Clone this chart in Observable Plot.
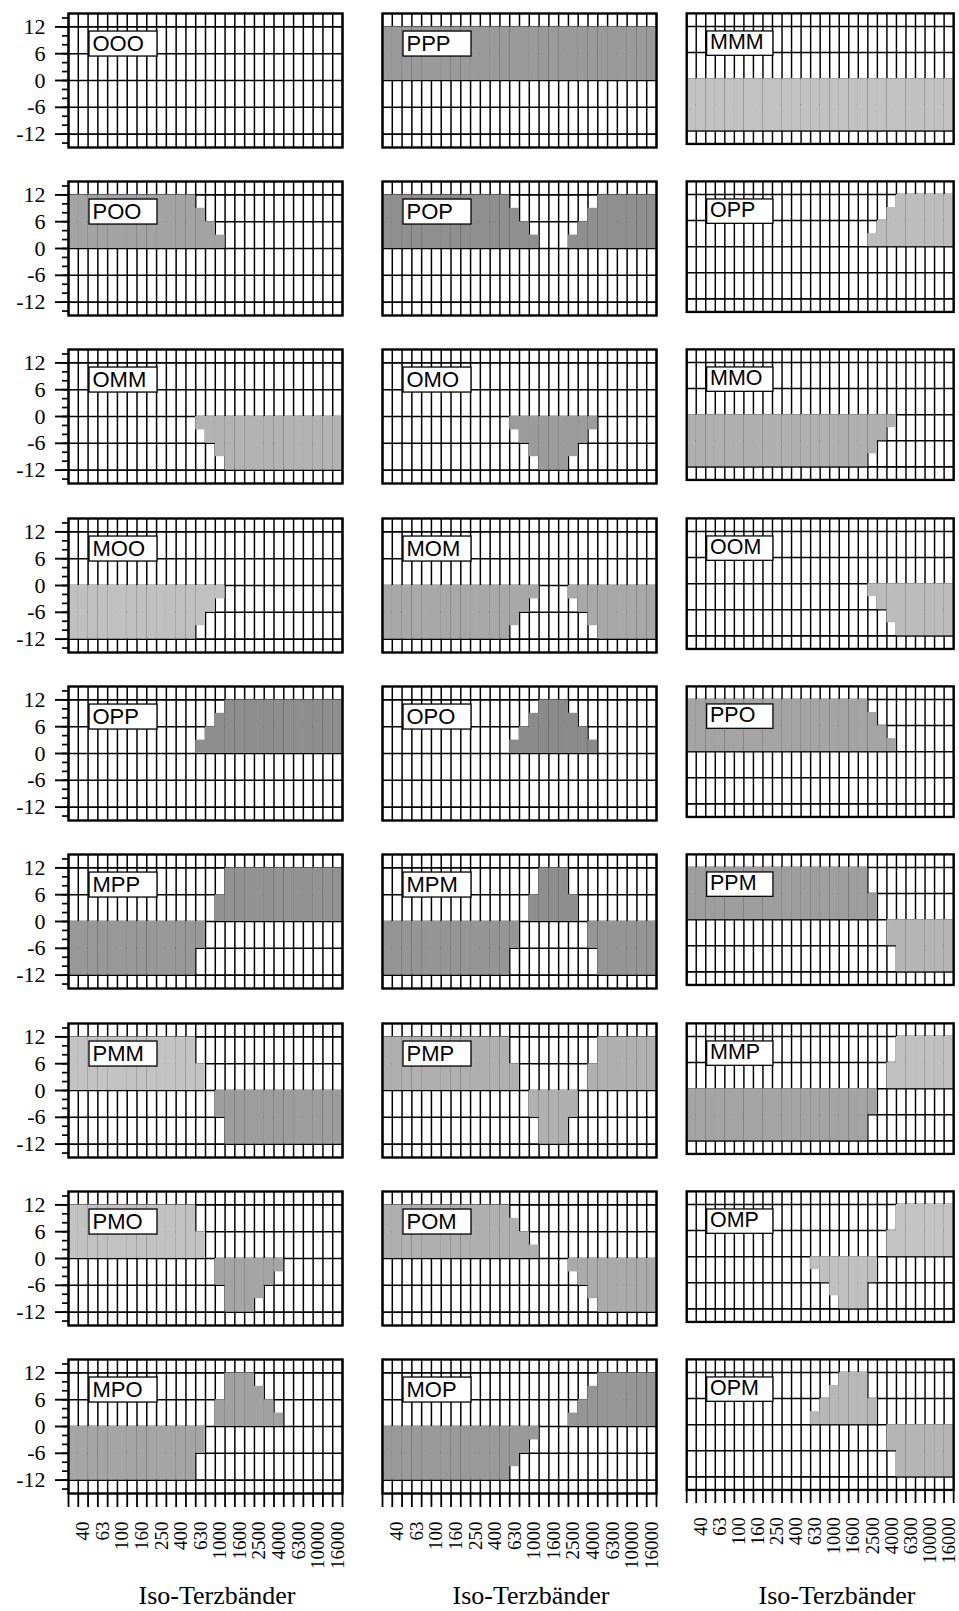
<!DOCTYPE html>
<html><head><meta charset="utf-8">
<script src="https://cdn.jsdelivr.net/npm/d3@7"></script>
<script src="https://cdn.jsdelivr.net/npm/@observablehq/plot@0.6"></script>
<style>
html,body{margin:0;padding:0;background:#fff;}
#page{position:relative;width:959px;height:1611px;overflow:hidden;background:#fff;}
.panel{position:absolute;}
.xtitle{position:absolute;font-family:"Liberation Serif","Times New Roman",serif;font-size:26px;white-space:nowrap;transform:translateX(-50%);line-height:26px;}
</style></head><body><div id="page"></div>
<script>
// ISO third-octave bands (columns of every panel)
const bands = ["31.5","40","50","63","80","100","125","160","200","250","315","400","500","630","800","1000","1250","1600","2000","2500","3150","4000","5000","6300","8000","10000","12500","16000"];
const xTickLabels = ["40","63","100","160","250","400","630","1000","1600","2500","4000","6300","10000","16000"];
const yTickLabels = [12, 6, 0, -6, -12];
const yMinorTicks = [-14,-12,-10,-8,-6,-4,-2,0,2,4,6,8,10,12,14];
const xTitle = "Iso-Terzbänder";

const panelLabels = [
  ["OOO","PPP","MMM"],
  ["POO","POP","OPP"],
  ["OMM","OMO","MMO"],
  ["MOO","MOM","OOM"],
  ["OPP","OPO","PPO"],
  ["MPP","MPM","PPM"],
  ["PMM","PMP","MMP"],
  ["PMO","POM","OMP"],
  ["MPO","MOP","OPM"]
];

// gain (dB) shaded from 0 in each band, one array per panel
const gain_r1c1 = [0,0,0,0,0,0,0,0,0,0,0,0,0, 0,0,0, 0,0,0, 0,0,0, 0,0,0,0,0,0];
const gain_r1c2 = [12,12,12,12,12,12,12,12,12,12,12,12,12, 12,12,12, 12,12,12, 12,12,12, 12,12,12,12,12,12];
const gain_r1c3 = [-12,-12,-12,-12,-12,-12,-12,-12,-12,-12,-12,-12,-12, -12,-12,-12, -12,-12,-12, -12,-12,-12, -12,-12,-12,-12,-12,-12];
const gain_r2c1 = [12,12,12,12,12,12,12,12,12,12,12,12,12, 9,6,3, 0,0,0, 0,0,0, 0,0,0,0,0,0];
const gain_r2c2 = [12,12,12,12,12,12,12,12,12,12,12,12,12, 9,6,3, 0,0,0, 3,6,9, 12,12,12,12,12,12];
const gain_r2c3 = [0,0,0,0,0,0,0,0,0,0,0,0,0, 0,0,0, 0,0,0, 3,6,9, 12,12,12,12,12,12];
const gain_r3c1 = [0,0,0,0,0,0,0,0,0,0,0,0,0, -3,-6,-9, -12,-12,-12, -12,-12,-12, -12,-12,-12,-12,-12,-12];
const gain_r3c2 = [0,0,0,0,0,0,0,0,0,0,0,0,0, -3,-6,-9, -12,-12,-12, -9,-6,-3, 0,0,0,0,0,0];
const gain_r3c3 = [-12,-12,-12,-12,-12,-12,-12,-12,-12,-12,-12,-12,-12, -12,-12,-12, -12,-12,-12, -9,-6,-3, 0,0,0,0,0,0];
const gain_r4c1 = [-12,-12,-12,-12,-12,-12,-12,-12,-12,-12,-12,-12,-12, -9,-6,-3, 0,0,0, 0,0,0, 0,0,0,0,0,0];
const gain_r4c2 = [-12,-12,-12,-12,-12,-12,-12,-12,-12,-12,-12,-12,-12, -9,-6,-3, 0,0,0, -3,-6,-9, -12,-12,-12,-12,-12,-12];
const gain_r4c3 = [0,0,0,0,0,0,0,0,0,0,0,0,0, 0,0,0, 0,0,0, -3,-6,-9, -12,-12,-12,-12,-12,-12];
const gain_r5c1 = [0,0,0,0,0,0,0,0,0,0,0,0,0, 3,6,9, 12,12,12, 12,12,12, 12,12,12,12,12,12];
const gain_r5c2 = [0,0,0,0,0,0,0,0,0,0,0,0,0, 3,6,9, 12,12,12, 9,6,3, 0,0,0,0,0,0];
const gain_r5c3 = [12,12,12,12,12,12,12,12,12,12,12,12,12, 12,12,12, 12,12,12, 9,6,3, 0,0,0,0,0,0];
const gain_r6c1 = [-12,-12,-12,-12,-12,-12,-12,-12,-12,-12,-12,-12,-12, -6,0,6, 12,12,12, 12,12,12, 12,12,12,12,12,12];
const gain_r6c2 = [-12,-12,-12,-12,-12,-12,-12,-12,-12,-12,-12,-12,-12, -6,0,6, 12,12,12, 6,0,-6, -12,-12,-12,-12,-12,-12];
const gain_r6c3 = [12,12,12,12,12,12,12,12,12,12,12,12,12, 12,12,12, 12,12,12, 6,0,-6, -12,-12,-12,-12,-12,-12];
const gain_r7c1 = [12,12,12,12,12,12,12,12,12,12,12,12,12, 6,0,-6, -12,-12,-12, -12,-12,-12, -12,-12,-12,-12,-12,-12];
const gain_r7c2 = [12,12,12,12,12,12,12,12,12,12,12,12,12, 6,0,-6, -12,-12,-12, -6,0,6, 12,12,12,12,12,12];
const gain_r7c3 = [-12,-12,-12,-12,-12,-12,-12,-12,-12,-12,-12,-12,-12, -12,-12,-12, -12,-12,-12, -6,0,6, 12,12,12,12,12,12];
const gain_r8c1 = [12,12,12,12,12,12,12,12,12,12,12,12,12, 6,0,-6, -12,-12,-12, -9,-6,-3, 0,0,0,0,0,0];
const gain_r8c2 = [12,12,12,12,12,12,12,12,12,12,12,12,12, 9,6,3, 0,0,0, -3,-6,-9, -12,-12,-12,-12,-12,-12];
const gain_r8c3 = [0,0,0,0,0,0,0,0,0,0,0,0,0, -3,-6,-9, -12,-12,-12, -6,0,6, 12,12,12,12,12,12];
const gain_r9c1 = [-12,-12,-12,-12,-12,-12,-12,-12,-12,-12,-12,-12,-12, -6,0,6, 12,12,12, 9,6,3, 0,0,0,0,0,0];
const gain_r9c2 = [-12,-12,-12,-12,-12,-12,-12,-12,-12,-12,-12,-12,-12, -9,-6,-3, 0,0,0, 3,6,9, 12,12,12,12,12,12];
const gain_r9c3 = [0,0,0,0,0,0,0,0,0,0,0,0,0, 3,6,9, 12,12,12, 6,0,-6, -12,-12,-12,-12,-12,-12];

const gains = [
  [gain_r1c1, gain_r1c2, gain_r1c3],
  [gain_r2c1, gain_r2c2, gain_r2c3],
  [gain_r3c1, gain_r3c2, gain_r3c3],
  [gain_r4c1, gain_r4c2, gain_r4c3],
  [gain_r5c1, gain_r5c2, gain_r5c3],
  [gain_r6c1, gain_r6c2, gain_r6c3],
  [gain_r7c1, gain_r7c2, gain_r7c3],
  [gain_r8c1, gain_r8c2, gain_r8c3],
  [gain_r9c1, gain_r9c2, gain_r9c3]
];

// styling (halftone tones, approximated by flat greys)
const posTone = [
  ["#fff","#9a9a9a","#fff"],
  ["#a3a3a3","#8f8f8f","#bdbdbd"],
  ["#fff","#fff","#fff"],
  ["#fff","#fff","#fff"],
  ["#8e8e8e","#8a8a8a","#a4a4a4"],
  ["#929292","#8e8e8e","#9e9e9e"],
  ["#c3c3c3","#b0b0b0","#c0c0c0"],
  ["#c2c2c2","#b0b0b0","#c4c4c4"],
  ["#a2a2a2","#969696","#b8b8b8"]
];
const negTone = [
  ["#fff","#fff","#c2c2c2"],
  ["#fff","#fff","#fff"],
  ["#b3b3b3","#9c9c9c","#b0b0b0"],
  ["#c0c0c0","#a8a8a8","#bcbcbc"],
  ["#fff","#fff","#fff"],
  ["#989898","#959595","#b5b5b5"],
  ["#9d9d9d","#b0b0b0","#a4a4a4"],
  ["#a5a5a5","#aaaaaa","#c0c0c0"],
  ["#a5a5a5","#9a9a9a","#b5b5b5"]
];

const SERIF = '"Liberation Serif","Times New Roman",serif';
const SANS = '"Liberation Sans",Arial,sans-serif';
const FW = 274, FH = 134;
const colLeft = [68, 382, 688];
const rowTop = r => 12.8 + 168.3 * r;
const ML = 70, MR = 6, MT = 4;
const ns = "http://www.w3.org/2000/svg";

const page = document.getElementById("page");

for (let r = 0; r < 9; r++) {
  for (let c = 0; c < 3; c++) {
    const gain = gains[r][c];
    const cells = gain.map((g, i) => ({band: i, g})).filter(d => d.g !== 0);
    const isLeft = c === 0, isBottom = r === 8;
    const MB = isBottom ? 80 : 4;
    const pf = posTone[r][c], nf = negTone[r][c];
    const marks = [
      Plot.ruleX(d3.range(bands.length + 1), {stroke: "#000", strokeWidth: 1.5}),
      Plot.ruleY([-12, -6, 0, 6, 12], {stroke: "#000", strokeWidth: 1.6}),
      Plot.rect(cells, {x1: "band", x2: d => d.band + 1, y1: 0, y2: "g", fill: d => d.g > 0 ? pf : nf}),
      Plot.frame({stroke: "#000", strokeWidth: 2.4}),
      Plot.text([panelLabels[r][c]], {text: d => d, frameAnchor: "top-left", dx: 24, dy: 30, lineAnchor: "middle", textAnchor: "start", fontSize: 22, fontFamily: SANS, fill: "#000"})
    ];
    if (isLeft) {
      marks.push(
        Plot.axisY({ticks: yMinorTicks, tickSize: 6, tickFormat: () => "", strokeWidth: 1.7, label: null}),
        Plot.axisY({ticks: yTickLabels, tickSize: 13, tickPadding: 10, tickFormat: d => String(d), fontSize: 22, fontFamily: SERIF, strokeWidth: 1.9, label: null, fill: "#000"})
      );
    }
    if (isBottom) {
      const labelPos = d3.range(bands.length).filter(i => xTickLabels.includes(bands[i])).map(i => i + 0.5);
      marks.push(
        Plot.axisX({ticks: d3.range(bands.length + 1), tickSize: 14, tickFormat: () => "", strokeWidth: 1.8, label: null}),
        Plot.axisX({ticks: labelPos, tickSize: 0, tickPadding: 28, tickRotate: -90, tickFormat: v => bands[Math.floor(v)], fontSize: 19, fontFamily: SERIF, label: null, fill: "#000"})
      );
    }
    const svg = Plot.plot({
      width: ML + FW + MR,
      height: MT + FH + MB,
      marginLeft: ML, marginRight: MR, marginTop: MT, marginBottom: MB,
      x: {domain: [0, bands.length], axis: isBottom ? undefined : null, label: null},
      y: {domain: [-15, 15], axis: isLeft ? undefined : null, label: null},
      style: {background: "transparent", overflow: "visible", color: "#000"},
      marks
    });
    const div = document.createElement("div");
    div.className = "panel";
    div.style.left = (colLeft[c] - ML) + "px";
    div.style.top = (rowTop(r) - MT) + "px";
    div.appendChild(svg);
    page.appendChild(div);
    // white label box behind the panel label, in the text's own coordinate frame
    const tg = svg.querySelector('g[aria-label="text"]');
    if (tg) {
      const t = tg.querySelector("text");
      const bb = t.getBBox();
      const rect = document.createElementNS(ns, "rect");
      rect.setAttribute("x", bb.x - 3.5);
      rect.setAttribute("y", bb.y + 0.5);
      rect.setAttribute("width", 68);
      rect.setAttribute("height", 25);
      rect.setAttribute("fill", "#fff");
      rect.setAttribute("stroke", "#000");
      rect.setAttribute("stroke-width", 1.3);
      const tr = t.getAttribute("transform");
      if (tr) rect.setAttribute("transform", tr);
      t.parentNode.insertBefore(rect, t);
    }
  }
}
for (let c = 0; c < 3; c++) {
  const d = document.createElement("div");
  d.className = "xtitle";
  d.textContent = xTitle;
  d.style.left = (colLeft[c] + FW / 2 + 12) + "px";
  d.style.top = "1583px";
  page.appendChild(d);
}
</script></body></html>
